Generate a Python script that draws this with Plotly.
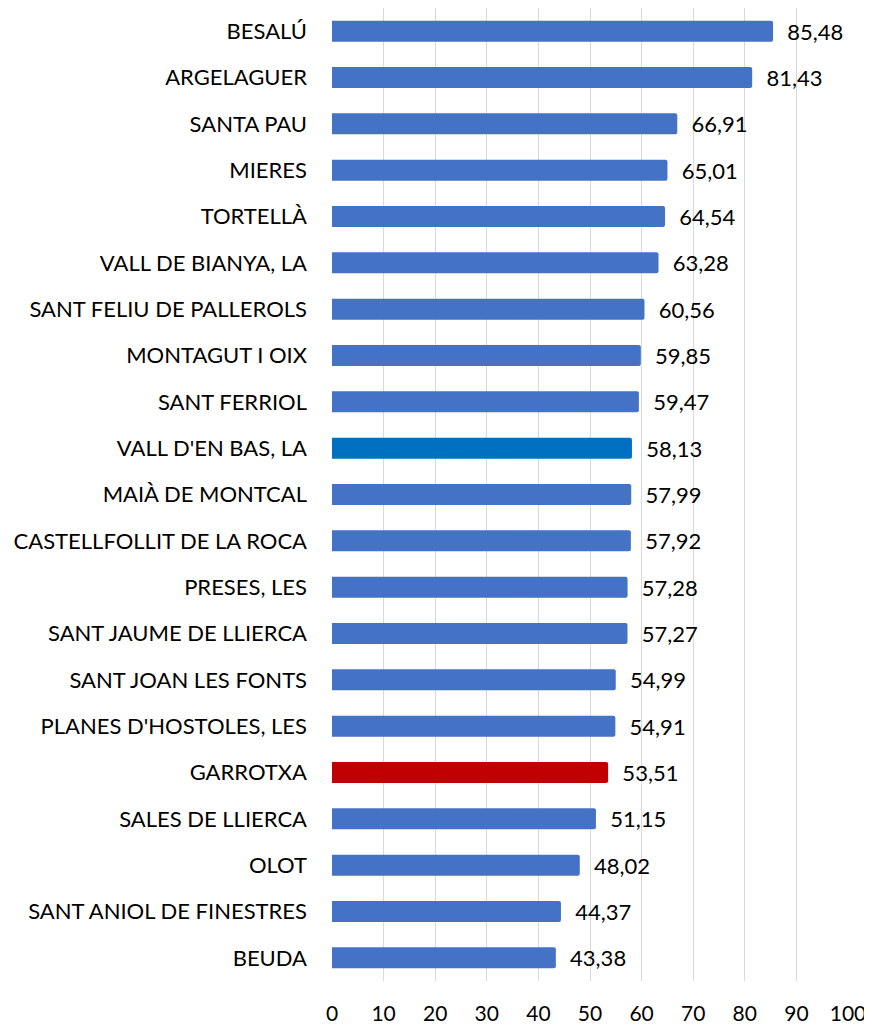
import plotly.graph_objects as go

categories = ["BESALÚ", "ARGELAGUER", "SANTA PAU", "MIERES", "TORTELLÀ",
              "VALL DE BIANYA, LA", "SANT FELIU DE PALLEROLS", "MONTAGUT I OIX",
              "SANT FERRIOL", "VALL D'EN BAS, LA", "MAIÀ DE MONTCAL",
              "CASTELLFOLLIT DE LA ROCA", "PRESES, LES", "SANT JAUME DE LLIERCA",
              "SANT JOAN LES FONTS", "PLANES D'HOSTOLES, LES", "GARROTXA",
              "SALES DE LLIERCA", "OLOT", "SANT ANIOL DE FINESTRES", "BEUDA"]
values = [85.48, 81.43, 66.91, 65.01, 64.54, 63.28, 60.56, 59.85, 59.47, 58.13,
          57.99, 57.92, 57.28, 57.27, 54.99, 54.91, 53.51, 51.15, 48.02, 44.37, 43.38]
x_ticks = [0, 10, 20, 30, 40, 50, 60, 70, 80, 90, 100]

default_color = "#4472C4"
special_colors = {"VALL D'EN BAS, LA": "#0070C0", "GARROTXA": "#C00000"}
colors = [special_colors.get(c, default_color) for c in categories]

FONT = "Lato"
FS = 22

fig = go.Figure(go.Bar(
    x=values, y=categories, orientation="h",
    marker=dict(color=colors, line=dict(width=0)),
    marker_cornerradius=2,
    texttemplate="\u00a0\u00a0%{x:.2f}", textposition="outside",
    constraintext="none",
    textfont=dict(family=FONT, size=FS, color="#000000"),
    cliponaxis=False,
))

# page body has an 8px margin: figure is offset by 8px right and down
fig.update_layout(
    width=864, height=1019,
    margin=dict(l=324, r=24, t=0, b=46, autoexpand=False),
    paper_bgcolor="white", plot_bgcolor="white",
    separators=", ",
    bargap=0.546,
    showlegend=False,
    font=dict(family=FONT, size=FS, color="#000000"),
)
fig.update_xaxes(
    range=[0, 100], tickvals=x_ticks, showgrid=True, gridcolor="#D9D9D9",
    gridwidth=1, zeroline=False, showline=False, ticks="",
    ticklabelstandoff=18, tickfont=dict(family=FONT, size=21),
)
fig.update_yaxes(
    autorange="reversed", showgrid=False, zeroline=False, showline=False,
    ticks="", ticklabelstandoff=24, tickfont=dict(family=FONT, size=FS),
)

fig.write_html("out.html")
